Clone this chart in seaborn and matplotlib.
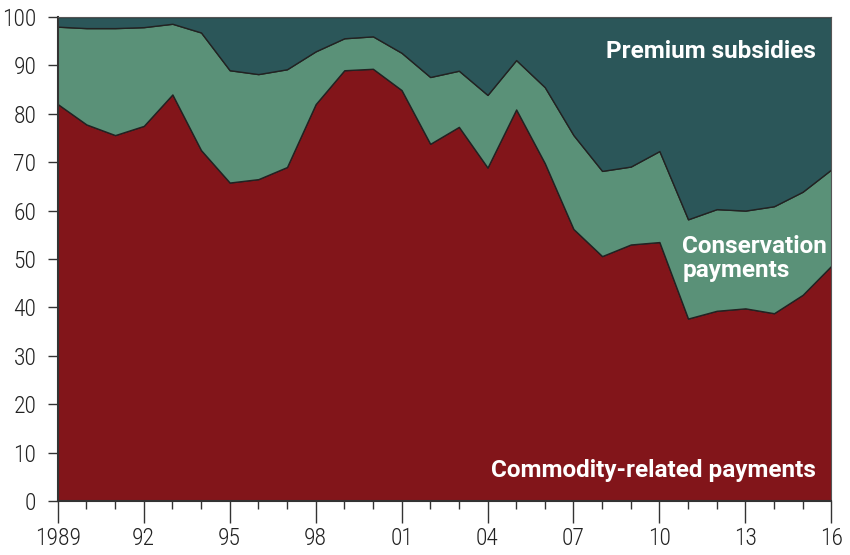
import numpy as np
import pandas as pd
import matplotlib
matplotlib.use("Agg")
import matplotlib.pyplot as plt
import matplotlib.ticker as mtick
from matplotlib import font_manager
import seaborn as sns

years = list(range(1989, 2017))
# share of payments, percent
commodity = [82.0, 77.8, 75.6, 77.5, 84.0, 72.5, 65.8, 66.5, 69.0, 82.0,
             89.0, 89.3, 84.9, 73.8, 77.3, 68.9, 80.9, 69.8, 56.2, 50.6,
             53.0, 53.5, 37.7, 39.3, 39.8, 38.8, 42.6, 48.6]
green_top = [98.0, 97.7, 97.7, 97.9, 98.6, 96.8, 89.0, 88.2, 89.2, 92.9,
             95.6, 96.0, 92.6, 87.6, 88.9, 83.9, 91.1, 85.5, 75.6, 68.2,
             69.1, 72.3, 58.2, 60.3, 60.0, 60.9, 63.9, 68.5]

df = pd.DataFrame({'year': years, 'commodity': commodity, 'top': green_top})
df['conservation'] = df['top'] - df['commodity']
df['premium'] = 100 - df['top']

sns.set_theme(style="white")

names = set(f.name for f in font_manager.fontManager.ttflist)
narrow = [n for n in ['Roboto Condensed', 'Liberation Sans Narrow'] if n in names]
plt.rcParams['font.family'] = narrow + ['DejaVu Sans']
label_font = ['Roboto', 'DejaVu Sans']

fig = plt.figure(figsize=(8.5, 5.55), dpi=100)
ax = fig.add_axes([0.068, 0.0973, 0.910, 0.8721])

red = '#82151a'
green = '#5a9178'
teal = '#2b5659'
ax.stackplot(df['year'], df['commodity'], df['conservation'], df['premium'],
             colors=[red, green, teal], edgecolor='#222222', linewidth=1.0)

ax.set_xlim(1989, 2016)
ax.set_ylim(0, 100)

ax.set_yticks(range(0, 101, 10))
ax.xaxis.set_minor_locator(mtick.MultipleLocator(1))
xlabels = ['1989' if y == 1989 else '{:02d}'.format(y % 100) for y in range(1989, 2017, 3)]
ax.set_xticks(range(1989, 2017, 3))
ax.set_xticklabels(xlabels)

ax.tick_params(axis='x', which='major', direction='out', length=16, width=1,
               color='#333333', labelsize=17, pad=3, bottom=True, labelcolor='#222222')
ax.tick_params(axis='x', which='minor', direction='out', length=6, width=1,
               color='#333333', bottom=True)
ax.tick_params(axis='y', which='major', direction='out', length=7.5, width=1,
               color='#333333', labelsize=17, pad=8, left=True, labelcolor='#222222')
for t in ax.get_xticklabels() + ax.get_yticklabels():
    t.set_fontweight('light')

for side in ['left', 'bottom']:
    ax.spines[side].set_color('#333333')
    ax.spines[side].set_linewidth(1.5)
for side in ['top', 'right']:
    ax.spines[side].set_color('#555555')
    ax.spines[side].set_linewidth(0.8)

lab = dict(color='white', fontweight='bold', fontsize=17.5, family=label_font,
           va='baseline', transform=ax.transData)
ax.text(2015.45, 91.6, 'Premium subsidies', ha='right', **lab)
ax.text(2010.8, 51.3, 'Conservation', ha='left', **lab)
ax.text(2010.8, 46.3, 'payments', ha='left', **lab)
ax.text(2015.45, 5.0, 'Commodity-related payments', ha='right', **lab)

ax.set_xlabel('')
ax.set_ylabel('')

fig.savefig('out.png', dpi=100)
